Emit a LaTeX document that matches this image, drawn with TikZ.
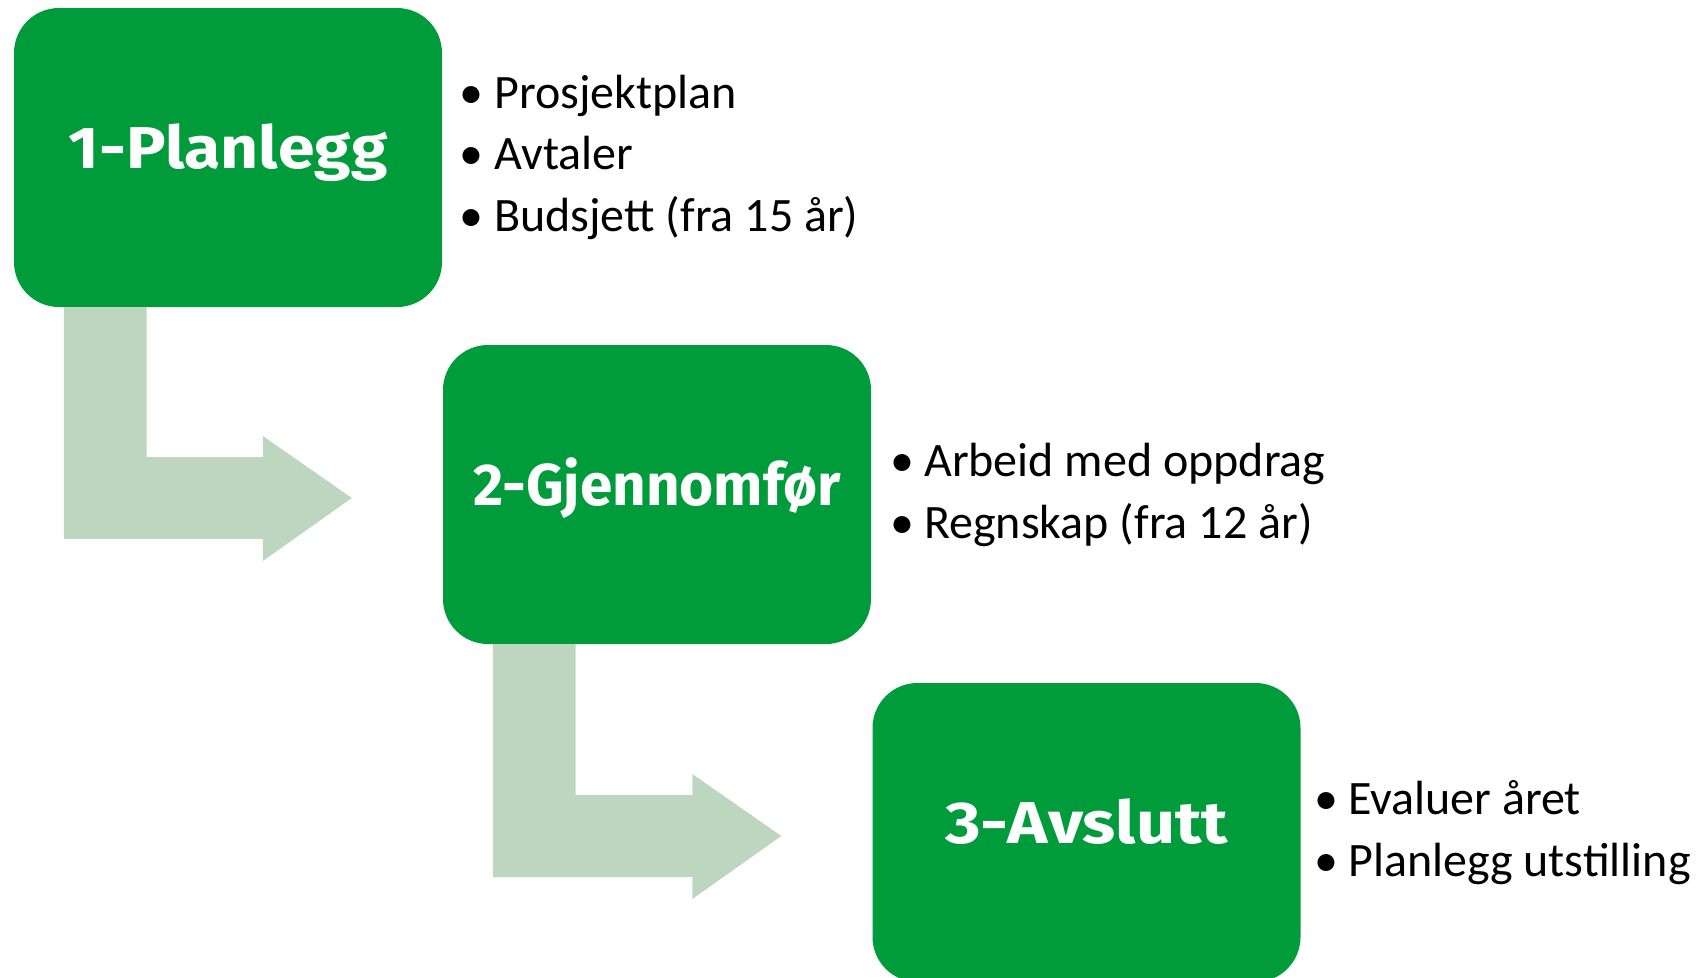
\documentclass[tikz,border=0pt]{standalone}
\usepackage{fontspec}
\setmainfont{Carlito}
\newfontfamily\titlefont{Fira Sans}
\usetikzlibrary{calc}
\definecolor{boxgreen}{HTML}{009C3B}
\definecolor{arrowgreen}{HTML}{BDD6C0}
\tikzset{
  stepbox/.style={fill=boxgreen, rounded corners=45pt, minimum width=428pt, minimum height=299pt,
    inner sep=0pt, text height=30pt, text depth=9pt, text=white,
    font=\titlefont\bfseries\fontsize{59}{60}\selectfont},
  itemtext/.style={anchor=base west, inner sep=0pt, font=\fontsize{48}{58}\selectfont},
  itembullet/.style={anchor=base, inner sep=0pt, font=\fontsize{48}{58}\selectfont},
  arr/.style={fill=arrowgreen}
}
\newcommand\myarrow[2]{%
  \coordinate (#1-s) at ($(#1.south west)+(50,0)$);
  \coordinate (#2-t) at ($(#2.west)+(-91,3.5)$);
  \fill[arr] (#1-s) -- ++(82.7,0) |- ($(#2-t)+(-89,-41)$) -- ++(0,-21) -- (#2-t)
    -- ($(#2-t)+(-89,63)$) -- ++(0,-22) -| (#1-s) -- cycle;
}
\begin{document}
\begin{tikzpicture}[x=1pt, y=-1pt]
\useasboundingbox (0,0) rectangle (1699,977);
\node[stepbox] (b1) at (228,157.5) {\scalebox{1.12}[1]{1-Planlegg}};
\node[stepbox] (b2) at (657,494.5) {\scalebox{0.99}[1]{2-Gjennomfør}};
\node[stepbox] (b3) at (1086.5,832.5) {\scalebox{1.16}[1]{3-Avslutt}};
\myarrow{b1}{b2}
\myarrow{b2}{b3}
% box 1 items
\node[itembullet] (d1a) at (471,108) {\textbullet};
\node[itemtext] (t1a) at (494,108) {Prosjektplan};
\node[itembullet] (d1b) at (471,169.5) {\textbullet};
\node[itemtext] (t1b) at (494,169.5) {Avtaler};
\node[itembullet] (d1c) at (471,231) {\textbullet};
\node[itemtext] (t1c) at (494,231) {Budsjett (fra 15 år)};
% box 2 items
\node[itembullet] (d2a) at (902,476.4) {\textbullet};
\node[itemtext] (t2a) at (924,476.4) {Arbeid med oppdrag};
\node[itembullet] (d2b) at (902,538) {\textbullet};
\node[itemtext] (t2b) at (924,538) {Regnskap (fra 12 år)};
% box 3 items
\node[itembullet] (d3a) at (1326,814.4) {\textbullet};
\node[itemtext] (t3a) at (1348,814.4) {Evaluer året};
\node[itembullet] (d3b) at (1326,876) {\textbullet};
\node[itemtext] (t3b) at (1348,876) {Planlegg utstilling};
\end{tikzpicture}
\end{document}
